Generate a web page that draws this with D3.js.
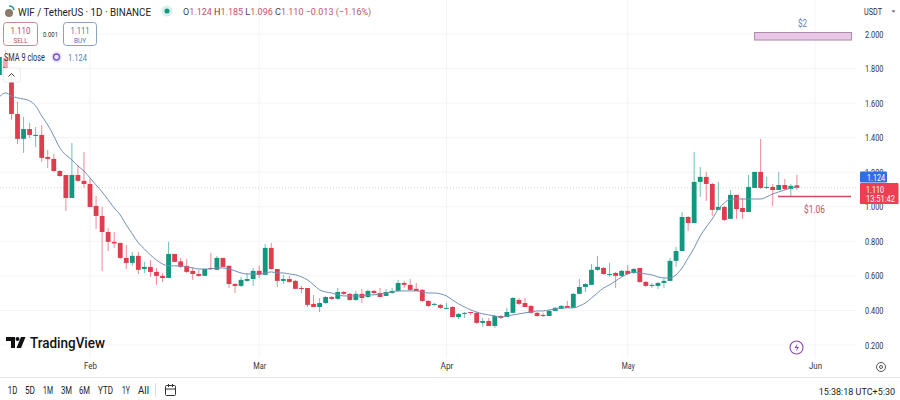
<!DOCTYPE html>
<html>
<head>
<meta charset="utf-8">
<script src="https://cdn.jsdelivr.net/npm/d3@7"></script>
<style>
  html, body { margin: 0; padding: 0; background: #fff; }
  text { font-family: Roboto, sans-serif; }
</style>
</head>
<body>
<div id="chart"></div>
<script>
// daily candles, 17 Jan to 29 May
const firstDay = new Date(2025, 0, 17);
const lastDay = new Date(2025, 4, 30);

const opens = [1.763,1.861,1.722,1.537,1.393,1.450,1.410,1.416,1.288,1.277,1.207,1.184,1.051,1.184,1.150,1.132,1.005,0.947,0.854,0.797,0.791,0.704,0.675,0.716,0.640,0.652,0.623,0.600,0.588,0.727,0.684,0.658,0.629,0.611,0.600,0.646,0.635,0.704,0.658,0.553,0.542,0.571,0.582,0.629,0.606,0.762,0.640,0.571,0.582,0.571,0.530,0.530,0.438,0.420,0.443,0.478,0.467,0.507,0.496,0.461,0.496,0.478,0.513,0.501,0.484,0.501,0.513,0.559,0.548,0.525,0.519,0.455,0.432,0.432,0.409,0.420,0.362,0.380,0.391,0.386,0.328,0.339,0.310,0.368,0.362,0.386,0.461,0.443,0.426,0.386,0.374,0.368,0.397,0.409,0.426,0.415,0.496,0.536,0.548,0.635,0.646,0.606,0.617,0.600,0.629,0.617,0.646,0.565,0.542,0.542,0.559,0.571,0.687,0.744,0.941,0.906,1.144,1.173,1.132,0.982,0.999,0.930,1.069,0.993,0.970,1.109,1.202,1.109,1.115,1.097,1.126,1.103,1.124];
const highs = [1.896,1.908,1.769,1.607,1.520,1.485,1.462,1.474,1.329,1.306,1.213,1.184,1.369,1.242,1.317,1.167,1.063,0.999,0.878,0.854,0.791,0.779,0.739,0.739,0.681,0.692,0.646,0.617,0.797,0.727,0.704,0.698,0.652,0.635,0.640,0.733,0.716,0.704,0.663,0.559,0.594,0.617,0.646,0.658,0.785,0.791,0.640,0.606,0.600,0.577,0.542,0.530,0.490,0.472,0.484,0.484,0.530,0.513,0.501,0.513,0.525,0.519,0.519,0.530,0.525,0.530,0.577,0.571,0.582,0.559,0.525,0.461,0.443,0.438,0.443,0.426,0.386,0.391,0.391,0.391,0.357,0.357,0.374,0.374,0.415,0.478,0.472,0.472,0.432,0.391,0.386,0.403,0.420,0.432,0.455,0.501,0.582,0.559,0.669,0.716,0.652,0.675,0.623,0.635,0.663,0.646,0.646,0.571,0.559,0.565,0.588,0.704,0.768,0.970,0.947,1.317,1.231,1.202,1.138,1.144,1.005,1.097,1.069,1.051,1.184,1.202,1.393,1.173,1.132,1.202,1.161,1.132,1.185];
const lows = [1.757,1.792,1.503,1.364,1.312,1.398,1.346,1.260,1.225,1.202,1.173,0.976,1.051,1.144,1.109,0.999,0.872,0.629,0.744,0.762,0.698,0.640,0.658,0.611,0.617,0.594,0.548,0.565,0.588,0.681,0.646,0.617,0.577,0.594,0.600,0.635,0.635,0.652,0.530,0.501,0.536,0.565,0.542,0.588,0.606,0.635,0.536,0.553,0.559,0.525,0.501,0.420,0.420,0.391,0.438,0.461,0.461,0.490,0.455,0.455,0.443,0.472,0.490,0.478,0.484,0.496,0.507,0.530,0.513,0.513,0.449,0.420,0.426,0.409,0.409,0.362,0.351,0.357,0.374,0.322,0.305,0.310,0.299,0.351,0.362,0.386,0.432,0.420,0.380,0.362,0.362,0.368,0.397,0.409,0.415,0.415,0.496,0.507,0.548,0.629,0.606,0.594,0.530,0.594,0.606,0.611,0.559,0.536,0.530,0.525,0.530,0.571,0.652,0.744,0.860,0.906,1.057,1.034,0.947,0.982,0.918,0.930,0.930,0.930,0.970,1.109,1.103,1.103,1.005,1.097,1.097,1.057,1.096];
const closes = [1.867,1.803,1.537,1.393,1.450,1.416,1.416,1.283,1.277,1.207,1.178,1.051,1.184,1.150,1.132,0.999,0.947,0.854,0.797,0.788,0.704,0.675,0.716,0.635,0.652,0.623,0.600,0.588,0.727,0.681,0.652,0.623,0.611,0.600,0.640,0.640,0.704,0.652,0.553,0.542,0.577,0.582,0.629,0.606,0.762,0.640,0.571,0.582,0.565,0.525,0.525,0.432,0.420,0.443,0.478,0.467,0.507,0.496,0.461,0.496,0.472,0.513,0.501,0.478,0.507,0.513,0.559,0.548,0.519,0.513,0.455,0.426,0.438,0.415,0.415,0.362,0.380,0.386,0.386,0.328,0.339,0.310,0.368,0.357,0.391,0.472,0.438,0.420,0.386,0.368,0.368,0.397,0.415,0.426,0.415,0.496,0.536,0.553,0.635,0.652,0.611,0.611,0.600,0.629,0.611,0.640,0.565,0.542,0.548,0.559,0.571,0.687,0.744,0.941,0.906,1.144,1.173,1.132,0.982,0.999,0.924,1.069,0.987,0.970,1.115,1.202,1.109,1.115,1.097,1.126,1.103,1.121,1.110];
const sma9 = [1.636,1.659,1.641,1.630,1.624,1.613,1.584,1.526,1.474,1.410,1.341,1.300,1.271,1.236,1.207,1.167,1.126,1.086,1.040,0.993,0.953,0.895,0.843,0.791,0.756,0.721,0.692,0.669,0.658,0.658,0.658,0.652,0.646,0.640,0.640,0.640,0.646,0.646,0.640,0.629,0.617,0.611,0.611,0.611,0.617,0.623,0.617,0.617,0.611,0.606,0.594,0.577,0.548,0.519,0.507,0.501,0.490,0.484,0.484,0.484,0.484,0.490,0.490,0.496,0.501,0.507,0.513,0.513,0.513,0.513,0.507,0.501,0.501,0.496,0.484,0.461,0.438,0.420,0.403,0.391,0.380,0.374,0.368,0.362,0.368,0.374,0.380,0.386,0.391,0.397,0.397,0.403,0.409,0.415,0.415,0.415,0.426,0.443,0.472,0.501,0.530,0.548,0.571,0.594,0.611,0.623,0.617,0.611,0.606,0.594,0.588,0.588,0.606,0.646,0.704,0.762,0.831,0.883,0.930,0.987,1.022,1.045,1.045,1.045,1.045,1.045,1.045,1.057,1.074,1.086,1.097,1.109,1.115];

const priceTicks = [2.0, 1.8, 1.6, 1.4, 1.2, 1.0, 0.8, 0.6, 0.4, 0.2];
const monthTicks = [new Date(2025, 1, 1), new Date(2025, 2, 1), new Date(2025, 3, 1), new Date(2025, 4, 1), new Date(2025, 5, 1)];
const rangeButtons = ['1D', '5D', '1M', '3M', '6M', 'YTD', '1Y', 'All'];

const lastPrice = 1.110;
const lastSma = 1.124;

const width = 900, height = 400;
const plotRight = 857;
const upColor = '#12977f', downColor = '#de3d4e';

const days = d3.timeDay.range(firstDay, lastDay);
const candles = days.map((d, i) => ({ date: d, o: opens[i], h: highs[i], l: lows[i], c: closes[i], sma: sma9[i] }));

const x = d3.scaleTime().domain([firstDay, new Date(2025, 5, 1)]).range([-0.6, 815]);
const y = d3.scaleLinear().domain([2.0, 0.2]).range([34, 345]);

const svg = d3.select('#chart').append('svg')
  .attr('width', width).attr('height', height)
  .style('display', 'block');

// the screenshot is squeezed sideways, so labels get pressed to the width they have there
function label(px, py, size, color, str, len, anchor) {
  const t = svg.append('text').attr('x', px).attr('y', py)
    .attr('font-size', size).attr('fill', color).text(str);
  if (len) t.attr('textLength', len).attr('lengthAdjust', 'spacingAndGlyphs');
  if (anchor) t.attr('text-anchor', anchor);
  return t;
}

// grid
svg.append('g').selectAll('line').data(priceTicks).enter().append('line')
  .attr('x1', 0).attr('x2', plotRight)
  .attr('y1', d => y(d)).attr('y2', d => y(d))
  .attr('stroke', '#f3f4f7');
svg.append('g').selectAll('line').data(monthTicks).enter().append('line')
  .attr('x1', d => x(d)).attr('x2', d => x(d))
  .attr('y1', 0).attr('y2', 358)
  .attr('stroke', '#f3f4f7');

// last price line
svg.append('line')
  .attr('x1', 0).attr('x2', plotRight)
  .attr('y1', y(lastPrice)).attr('y2', y(lastPrice))
  .attr('stroke', '#e2cccc').attr('stroke-dasharray', '1 2');

// candles
const candle = svg.append('g').selectAll('g').data(candles).enter().append('g');
candle.append('line')
  .attr('x1', d => x(d.date)).attr('x2', d => x(d.date))
  .attr('y1', d => y(d.h)).attr('y2', d => y(d.l))
  .attr('stroke', d => d.c >= d.o ? upColor : downColor)
  .attr('stroke-opacity', 0.6);
candle.append('rect')
  .attr('x', d => x(d.date) - 2.4).attr('width', 4.8)
  .attr('y', d => y(Math.max(d.o, d.c)))
  .attr('height', d => Math.max(1, Math.abs(y(d.o) - y(d.c))))
  .attr('fill', d => d.c >= d.o ? upColor : downColor);

// SMA 9
const smaLine = d3.line().x(d => x(d.date)).y(d => y(d.sma)).curve(d3.curveMonotoneX);
svg.append('path').datum(candles)
  .attr('d', smaLine)
  .attr('fill', 'none')
  .attr('stroke', '#7090b5')
  .attr('stroke-width', 1);

// drawn annotations
svg.append('rect')
  .attr('x', x(new Date(2025, 4, 22))).attr('width', 97)
  .attr('y', y(2.0) - 1.5).attr('height', y(1.965) - y(2.0) + 1.5)
  .attr('fill', '#e8c6e6').attr('stroke', '#a98bac');
label(802.5, 26.5, 10, '#5b7fb3', '$2', 9, 'middle');
svg.append('line')
  .attr('x1', 778).attr('x2', 851)
  .attr('y1', y(1.06)).attr('y2', y(1.06))
  .attr('stroke', '#cf4a62').attr('stroke-width', 1.5);
label(814.5, 213, 10.5, '#c2536a', '$1.06', 21, 'middle');

// price axis
const yAxis = d3.axisRight(y).tickValues(priceTicks).tickFormat(d3.format('.3f')).tickSize(0).tickPadding(0);
const yG = svg.append('g').attr('transform', 'translate(865,0)').call(yAxis);
yG.select('.domain').remove();
yG.selectAll('text').attr('font-size', 9.5).attr('fill', '#333')
  .attr('textLength', 18.5).attr('lengthAdjust', 'spacingAndGlyphs');

// time axis
const xAxis = d3.axisBottom(x).tickValues(monthTicks).tickFormat(d3.timeFormat('%b')).tickSize(0).tickPadding(0);
const xG = svg.append('g').attr('transform', 'translate(0,362)').call(xAxis);
xG.select('.domain').remove();
xG.selectAll('text').attr('font-size', 9.5).attr('fill', '#333')
  .attr('textLength', 13).attr('lengthAdjust', 'spacingAndGlyphs');

// price labels on the axis
svg.append('rect').attr('x', 860).attr('y', 171.5).attr('width', 27).attr('height', 11).attr('rx', 1).attr('fill', '#2f6fe4');
label(876, 180.5, 9.5, '#fff', d3.format('.3f')(lastSma), 18, 'middle');
svg.append('rect').attr('x', 860).attr('y', 183).attr('width', 38.5).attr('height', 21).attr('rx', 1).attr('fill', '#ef3e50');
label(866, 192.5, 9.5, '#fff', d3.format('.3f')(lastPrice), 18);
label(866, 201.5, 9, '#fff', '13:51:42', 29);

// header
svg.append('circle').attr('cx', 9).attr('cy', 13).attr('r', 4).attr('fill', '#8a7a68');
svg.append('path').attr('d', 'M9 6a5 5 0 0 1 5 4').attr('fill', 'none').attr('stroke', '#2a9d95').attr('stroke-width', 1.6);
label(18, 16, 11.5, '#222', 'WIF / TetherUS · 1D · BINANCE', 133);
svg.append('circle').attr('cx', 167).attr('cy', 11).attr('r', 5.5).attr('fill', '#d5f0ea');
svg.append('circle').attr('cx', 167).attr('cy', 11).attr('r', 2.5).attr('fill', '#12977f');

const ohlc = label(183, 14.5, 9, '#c2536a', '');
[['O', '1.124'], ['H', '1.185'], ['L', '1.096'], ['C', '1.110']].forEach(p => {
  ohlc.append('tspan').attr('fill', '#444').text(p[0]);
  ohlc.append('tspan').text(p[1] + ' ');
});
ohlc.append('tspan').text('−0.013 (−1.16%)');

// sell / buy
svg.append('rect').attr('x', 3.5).attr('y', 22.5).attr('width', 34).attr('height', 23).attr('rx', 3).attr('fill', '#fff').attr('stroke', '#c88a92');
label(20.5, 33.5, 9.5, '#b5505f', '1.110', 20, 'middle');
label(20.5, 42.5, 8, '#b5505f', 'SELL', 14, 'middle');
label(50.5, 36.5, 8, '#333', '0.001', 15, 'middle');
svg.append('rect').attr('x', 63.5).attr('y', 22.5).attr('width', 33).attr('height', 23).attr('rx', 3).attr('fill', '#fff').attr('stroke', '#8aa3c2');
label(80, 33.5, 9.5, '#4f78ad', '1.111', 19, 'middle');
label(80, 42.5, 8, '#4f78ad', 'BUY', 12, 'middle');

// SMA legend, sits on a faint white veil over the candles
svg.append('rect').attr('x', 3).attr('y', 50).attr('width', 44).attr('height', 17).attr('fill', '#fff').attr('fill-opacity', 0.55);
label(4, 60.5, 10, '#333', 'SMA 9 close', 41);
svg.append('circle').attr('cx', 56.5).attr('cy', 57).attr('r', 5.5).attr('fill', '#ece6fa');
svg.append('circle').attr('cx', 56.5).attr('cy', 57).attr('r', 3).attr('fill', 'none').attr('stroke', '#7a55cf').attr('stroke-width', 1.4);
label(68, 60.5, 9.5, '#5d7fb0', d3.format('.3f')(lastSma), 19);

// collapse button
svg.append('rect').attr('x', 3.5).attr('y', 68).attr('width', 17).attr('height', 14).attr('rx', 2).attr('fill', '#fff').attr('fill-opacity', 0.75).attr('stroke', '#ececec');
svg.append('path').attr('d', 'M8.5 76.5l3-3 3 3').attr('fill', 'none').attr('stroke', '#444');

// logo
const logo = svg.append('g').attr('fill', '#111');
logo.append('path').attr('d', 'M6 337h9v11h-4v-7h-5z');
logo.append('circle').attr('cx', 17.5).attr('cy', 339).attr('r', 2);
logo.append('path').attr('d', 'M21 337h4.5l-4.5 11h-4.5z');
label(30, 347.5, 15, '#111', 'TradingView', 75).attr('font-weight', 500);

// bolt icon
svg.append('circle').attr('cx', 796.5).attr('cy', 347.5).attr('r', 6.5).attr('fill', '#fff').attr('stroke', '#8e44ad').attr('stroke-width', 1.1);
svg.append('path').attr('d', 'M797.5 343.5l-3 4.5h2.5l-1 3.5 3-4.5h-2.5z').attr('fill', '#8e44ad');

// settings
svg.append('circle').attr('cx', 881).attr('cy', 367).attr('r', 4.5).attr('fill', 'none').attr('stroke', '#555');
svg.append('circle').attr('cx', 881).attr('cy', 367).attr('r', 1.5).attr('fill', 'none').attr('stroke', '#555');

// bottom bar
svg.append('line').attr('x1', 0).attr('x2', width).attr('y1', 377.5).attr('y2', 377.5).attr('stroke', '#e6e8ee');
const rangeX = d3.scaleOrdinal().domain(rangeButtons).range([12.5, 30, 48, 66.5, 84.5, 105.5, 126, 143.5]);
const rangeW = d3.scaleOrdinal().domain(rangeButtons).range([9.5, 10, 10, 11, 11, 15, 8, 11]);
rangeButtons.forEach(b => label(rangeX(b), 393.5, 10, '#222', b, rangeW(b), 'middle'));
svg.append('line').attr('x1', 155.5).attr('x2', 155.5).attr('y1', 383).attr('y2', 397).attr('stroke', '#ddd');
svg.append('rect').attr('x', 165.5).attr('y', 385.5).attr('width', 10).attr('height', 10).attr('rx', 1).attr('fill', 'none').attr('stroke', '#333');
svg.append('path').attr('d', 'M165.5 389h10M168.5 384v3M172.5 384v3').attr('fill', 'none').attr('stroke', '#333');
label(895, 394.5, 9, '#222', '15:38:18 UTC+5:30', null, 'end');
// USDT selector
label(864, 15, 9.5, '#333', 'USDT', 18);
svg.append('path').attr('d', 'M891.5 10.5l2 2 2-2z').attr('fill', '#555');
</script>
</body>
</html>
